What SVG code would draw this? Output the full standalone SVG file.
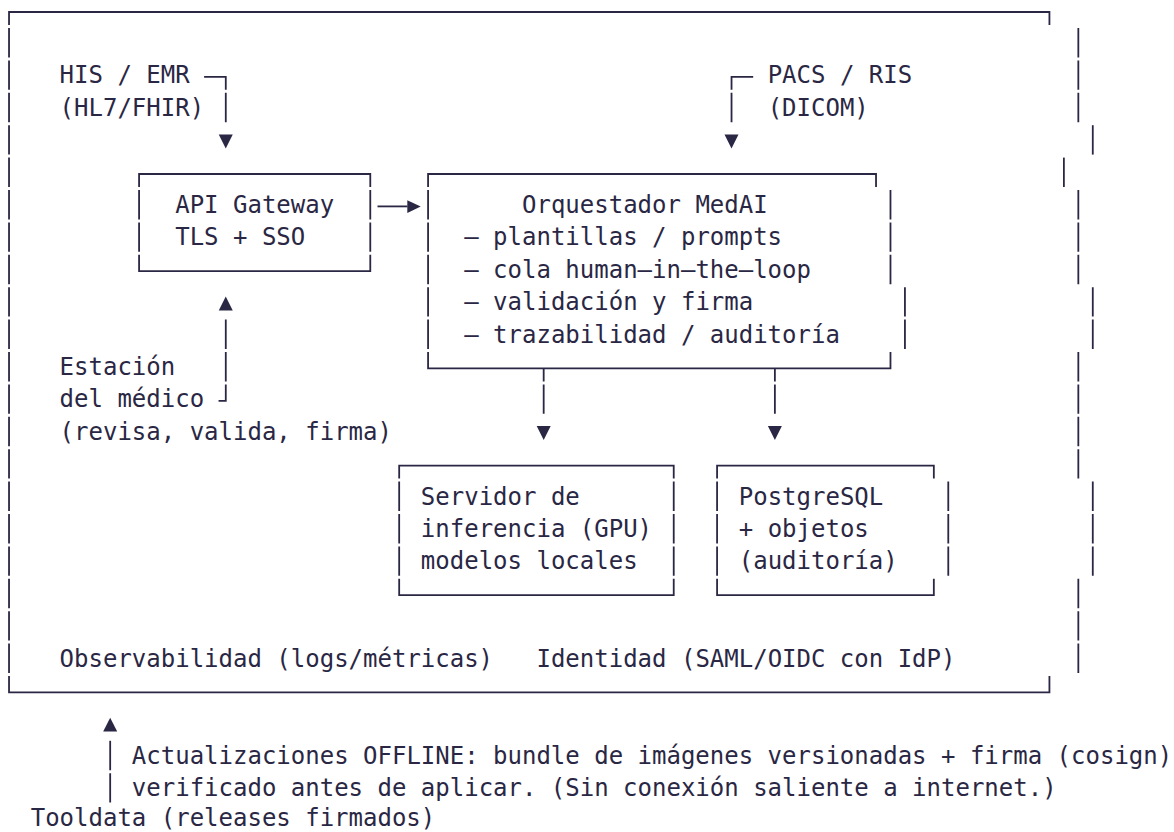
<svg xmlns="http://www.w3.org/2000/svg" width="1174" height="832" viewBox="0 0 1174 832">
<style>
.ln{stroke:#2a2744;stroke-width:1.8;fill:none;stroke-linecap:butt}
.dv{stroke-dasharray:29.4 3}
.ah{fill:#2a2744;stroke:none}
.tx{font-family:"DejaVu Sans Mono","Liberation Mono",monospace;font-size:24px;fill:#2a2744}
</style>
<rect width="1174" height="832" fill="#ffffff"/>
<g id="perimetro-on-prem">
<path class="ln" d="M9.03,25 V12 H1049.43 V25"/>
<path class="ln dv" d="M9.03,28 V673"/>
<path class="ln dv" d="M1078.33,28 V122.2"/>
<path class="ln" d="M1092.78,125.2 V154.6"/>
<path class="ln" d="M1063.88,157.6 V187"/>
<path class="ln dv" d="M1078.33,190 V284.2"/>
<path class="ln dv" d="M1092.78,287.2 V349"/>
<path class="ln dv" d="M1078.33,352 V478.6"/>
<path class="ln dv" d="M1092.78,481.6 V575.8"/>
<path class="ln dv" d="M1078.33,578.8 V673"/>
<path class="ln" d="M9.03,676 V692.4 H1049.43 V676"/>
</g>
<g id="his-emr">
<text class="tx" x="59.6" y="83.4">HIS / EMR</text>
<text class="tx" x="59.6" y="115.8">(HL7/FHIR)</text>
</g>
<g id="pacs-ris">
<text class="tx" x="767.65" y="83.4">PACS / RIS</text>
<text class="tx" x="767.65" y="115.8">(DICOM)</text>
</g>
<g id="api-gateway">
<path class="ln" d="M139.08,187 V174 H370.28 V187"/>
<path class="ln dv" d="M139.08,190 V251.8"/>
<path class="ln dv" d="M370.28,190 V251.8"/>
<path class="ln" d="M139.08,254.8 V271.2 H370.28 V254.8"/>
<text class="tx" x="175.2" y="213">API Gateway</text>
<text class="tx" x="175.2" y="245.4">TLS + SSO</text>
</g>
<g id="orquestador-medai">
<path class="ln" d="M428.08,187 V174 H876.03 V187"/>
<path class="ln dv" d="M428.08,190 V349"/>
<path class="ln dv" d="M890.48,190 V284.2"/>
<path class="ln dv" d="M904.93,287.2 V349"/>
<path class="ln" d="M428.08,352 V368.4 H890.48 V352"/>
<text class="tx" x="522" y="213">Orquestador MedAI</text>
<text class="tx" x="464.2" y="245.4">– plantillas / prompts</text>
<text class="tx" x="464.2" y="277.8">– cola human–in–the–loop</text>
<text class="tx" x="464.2" y="310.2">– validación y firma</text>
<text class="tx" x="464.2" y="342.6">– trazabilidad / auditoría</text>
</g>
<g id="estacion-medico">
<text class="tx" x="59.6" y="375">Estación</text>
<text class="tx" x="59.6" y="407.4">del médico</text>
<text class="tx" x="59.6" y="439.8">(revisa, valida, firma)</text>
</g>
<g id="servidor-inferencia">
<path class="ln" d="M399.18,478.6 V465.6 H673.73 V478.6"/>
<path class="ln dv" d="M399.18,481.6 V575.8"/>
<path class="ln dv" d="M673.73,481.6 V575.8"/>
<path class="ln" d="M399.18,578.8 V595.2 H673.73 V578.8"/>
<text class="tx" x="420.85" y="504.6">Servidor de</text>
<text class="tx" x="420.85" y="537">inferencia (GPU)</text>
<text class="tx" x="420.85" y="569.4">modelos locales</text>
</g>
<g id="postgresql">
<path class="ln" d="M717.08,478.6 V465.6 H933.83 V478.6"/>
<path class="ln dv" d="M717.08,481.6 V575.8"/>
<path class="ln dv" d="M948.28,481.6 V575.8"/>
<path class="ln" d="M717.08,578.8 V595.2 H933.83 V578.8"/>
<text class="tx" x="738.75" y="504.6">PostgreSQL</text>
<text class="tx" x="738.75" y="537">+ objetos</text>
<text class="tx" x="738.75" y="569.4">(auditoría)</text>
</g>
<g id="observabilidad">
<text class="tx" x="59.6" y="666.6">Observabilidad (logs/métricas)</text>
</g>
<g id="identidad">
<text class="tx" x="536.45" y="666.6">Identidad (SAML/OIDC con IdP)</text>
</g>
<g id="tooldata">
<text class="tx" x="30.7" y="826">Tooldata (releases firmados)</text>
</g>
<g id="connectors">
<path class="ln" d="M204.1,76.8 H225.78 V89.8 M225.78,92.8 V122.2"/>
<polygon class="ah" points="218.78,134.5 232.78,134.5 225.78,148.4"/>
<path class="ln" d="M753.2,76.8 H731.53 V89.8 M731.53,92.8 V122.2"/>
<polygon class="ah" points="724.53,134.5 738.53,134.5 731.53,148.4"/>
<path class="ln" d="M377.5,206.4 H407.5"/>
<polygon class="ah" points="407.3,200.3 420.7,206.6 407.3,212.9"/>
<polygon class="ah" points="218.78,310.4 232.78,310.4 225.78,296.5"/>
<path class="ln dv" d="M225.78,319.6 V381.4"/>
<path class="ln" d="M225.78,384.4 V400.8 H218.55"/>
<path class="ln" d="M543.68,368.4 V381.4 M543.68,384.4 V413.8"/>
<polygon class="ah" points="536.68,426.1 550.68,426.1 543.68,440"/>
<path class="ln" d="M774.88,368.4 V381.4 M774.88,384.4 V413.8"/>
<polygon class="ah" points="767.88,426.1 781.88,426.1 774.88,440"/>
<polygon class="ah" points="103.18,731.6 117.18,731.6 110.18,717.7"/>
<path class="ln dv" d="M110.18,740.8 V802.6"/>
<text class="tx" x="131.85" y="763.8">Actualizaciones OFFLINE: bundle de imágenes versionadas + firma (cosign)</text>
<text class="tx" x="131.85" y="796.2">verificado antes de aplicar. (Sin conexión saliente a internet.)</text>
</g>
</svg>
